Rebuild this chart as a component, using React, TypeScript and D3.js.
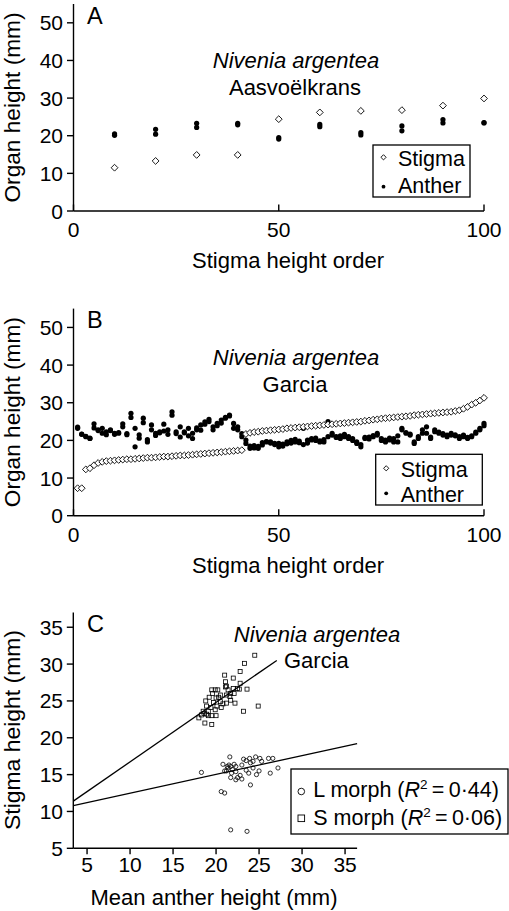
import React from 'react';
import * as d3 from 'd3';

const FONT = '"Liberation Sans", Arial, Helvetica, sans-serif';

// ---------- Panel A: Nivenia argentea, Aasvoëlkrans ----------
const aOrder = [10, 20, 30, 40, 50, 60, 70, 80, 90, 100];
const aStigma = [11.5, 13.3, 14.9, 14.9, 24.4, 26.2, 26.6, 26.8, 28.0, 29.9];
const aAnther1 = [20.5, 21.7, 23.3, 23.3, 19.5, 23.0, 20.8, 22.6, 24.3, 23.5];
const aAnther2 = [20.1, 20.4, 22.2, 22.9, 19.1, 22.4, 20.2, 21.3, 23.4, 23.4];

// ---------- Panel B: Nivenia argentea, Garcia ----------
const bStigma = [
  7.3, 7.3, 12.3, 12.6, 13.4, 14.0, 14.3, 14.5, 14.6, 14.7,
  14.8, 14.9, 15.0, 15.0, 15.1, 15.2, 15.3, 15.4, 15.4, 15.5,
  15.6, 15.7, 15.7, 15.8, 15.9, 16.0, 16.0, 16.1, 16.2, 16.3,
  16.4, 16.5, 16.6, 16.7, 16.8, 16.9, 17.0, 17.1, 17.2, 17.3,
  17.4, 21.7, 22.0, 22.2, 22.3, 22.5, 22.6, 22.7, 22.8, 22.9,
  23.0, 23.2, 23.3, 23.4, 23.5, 23.6, 23.7, 23.8, 23.9, 24.0,
  24.1, 24.2, 24.3, 24.4, 24.5, 24.6, 24.7, 24.8, 24.9, 25.0,
  25.2, 25.3, 25.5, 25.6, 25.8, 25.9, 26.0, 26.1, 26.2, 26.3,
  26.4, 26.5, 26.7, 26.8, 26.9, 27.0, 27.1, 27.2, 27.3, 27.4,
  27.5, 27.6, 27.8, 28.0, 28.4, 28.9, 29.5, 30.0, 30.6, 31.3,
];
const bAnther1 = [
  23.5, 21.7, 21.1, 20.6, 24.4, 22.6, 23.2, 21.5, 22.8, 21.9,
  21.9, 24.4, 21.5, 27.2, 23.2, 21.5, 25.9, 20.2, 24.1, 21.9,
  22.3, 24.3, 22.8, 27.6, 22.3, 23.6, 22.3, 23.2, 20.5, 22.8,
  24.1, 24.9, 25.6, 23.6, 24.5, 25.4, 26.1, 26.7, 24.5, 22.8,
  21.8, 20.1, 17.9, 18.0, 17.9, 18.8, 19.6, 19.6, 19.2, 18.3,
  19.0, 19.6, 19.3, 20.3, 19.4, 23.2, 19.3, 20.1, 20.6, 19.6,
  19.6, 25.0, 21.9, 20.8, 21.2, 21.6, 21.0, 20.5, 19.2, 18.3,
  20.5, 20.4, 21.0, 21.9, 20.5, 19.6, 20.1, 20.5, 19.6, 23.2,
  22.1, 21.4, 19.2, 20.5, 21.9, 23.6, 20.5, 22.8, 21.9, 21.4,
  21.0, 21.4, 21.5, 20.5, 21.4, 20.5, 21.0, 21.9, 23.2, 24.5,
];
const bAnther2 = [
  23.2, 21.6, 21.0, 20.5, 23.3, 22.8, 21.9, 22.3, 22.6, 21.6,
  22.1, 23.6, 21.8, 26.1, 18.3, 20.6, 24.7, 19.6, 22.8, 21.3,
  22.0, 22.5, 21.6, 26.7, 21.8, 20.9, 22.0, 21.2, 21.9, 23.3,
  22.7, 24.3, 25.0, 22.8, 23.9, 24.6, 25.9, 26.5, 23.2, 23.6,
  21.0, 19.2, 18.5, 18.6, 18.4, 19.4, 19.7, 19.3, 18.9, 19.2,
  18.5, 19.1, 20.0, 19.6, 19.8, 18.9, 20.1, 20.5, 20.0, 19.9,
  20.2, 21.0, 21.4, 21.0, 20.5, 21.0, 20.5, 20.0, 19.6, 18.9,
  20.8, 20.9, 21.3, 21.4, 20.0, 20.1, 20.6, 19.6, 21.2, 22.8,
  21.9, 21.7, 19.6, 21.0, 22.8, 21.9, 20.9, 22.3, 22.2, 21.8,
  21.4, 21.9, 21.2, 21.0, 21.0, 20.8, 21.2, 22.2, 22.8, 23.9,
];

// ---------- Panel C: stigma height vs mean anther height ----------
const lMorphX = [
  18.3, 21.6, 20.8, 21.5, 21.7, 21.4, 21.2, 21.0, 22.1, 22.3,
  21.8, 21.7, 22.3, 23.2, 23.5, 23.9, 24.0, 24.3, 24.6, 25.1,
  25.3, 26.1, 26.6, 23.0, 23.5, 24.3, 25.0, 24.7, 26.3, 27.2,
  22.8, 23.0, 22.5, 24.0, 20.6, 21.0, 21.7, 23.6, 22.3, 23.8,
  21.9, 21.3,
];
const lMorphY = [
  15.3, 17.4, 16.4, 16.3, 16.1, 15.9, 15.5, 15.5, 16.4, 16.1,
  15.2, 14.6, 14.3, 17.1, 16.9, 17.2, 16.6, 16.8, 17.4, 17.2,
  16.8, 17.2, 17.2, 16.3, 15.6, 15.9, 15.5, 15.0, 15.2, 15.9,
  14.9, 14.4, 14.6, 13.6, 12.7, 12.5, 7.5, 7.3, 15.4, 15.2,
  15.7, 16.1,
];
const sMorphX = [
  24.5, 23.3, 22.8, 21.0, 22.0, 21.1, 22.8, 21.2, 23.6, 22.5,
  22.7, 19.5, 19.9, 20.2, 21.4, 21.7, 22.1, 21.6, 21.2, 20.3,
  19.2, 19.6, 18.8, 19.7, 20.5, 20.8, 21.2, 22.2, 24.9, 18.9,
  19.4, 20.1, 20.6, 19.9, 18.5, 19.1, 23.2, 18.3, 18.9, 19.5,
  20.0, 18.0, 18.7, 19.5, 20.5, 21.7, 22.0, 19.1, 18.6, 20.0,
  21.1,
];
const sMorphY = [
  31.2, 30.1, 29.0, 28.5, 28.1, 27.6, 27.4, 27.0, 26.6, 26.7,
  26.6, 26.5, 26.5, 26.5, 26.5, 26.0, 26.0, 25.6, 25.8, 25.5,
  25.5, 26.0, 25.0, 24.8, 24.9, 24.6, 24.7, 24.7, 24.3, 24.3,
  24.1, 24.3, 24.1, 23.8, 23.6, 23.6, 23.6, 23.1, 23.2, 23.0,
  23.0, 22.7, 22.0, 21.8, 25.8, 25.1, 26.7, 23.0, 23.3, 25.4,
  26.9,
];
// regression fits (stigma = intercept + slope * anther)
const lMorphFit = { intercept: 9.93, slope: 0.255, xEnd: 36.4 };
const sMorphFit = { intercept: 8.66, slope: 0.807, xEnd: 27.06 };

const orderTicks = [0, 50, 100];
const organTicks = [0, 10, 20, 30, 40, 50];
const antherTicks = [5, 10, 15, 20, 25, 30, 35];
const stigmaTicks = [5, 10, 15, 20, 25, 30, 35];

const diamond = (r: number) => `M0,${-r}L${r},0L0,${r}L${-r},0Z`;

const AX = { stroke: '#000', strokeWidth: 1.4 };

function OrderPanel({
  y0, y1, stigmaX, stigma, anther1, anther2, label, site, annY, legend, panelLetter, letterY, titleY,
}: any) {
  const x = d3.scaleLinear().domain([0, 100]).range([73.5, 484]);
  const y = d3.scaleLinear().domain([0, 55]).range([y0, y1]);
  const xs = stigmaX;
  return (
    <g>
      <line x1={x(0)} x2={x(0)} y1={y(0)} y2={y(55)} {...AX} />
      <line x1={x(0)} x2={x(100)} y1={y(0)} y2={y(0)} {...AX} />
      {organTicks.map((t) => (
        <g key={'yt' + t}>
          <line x1={x(0) - 6.5} x2={x(0)} y1={y(t)} y2={y(t)} {...AX} />
          <text x={63} y={y(t)} dy="0.36em" textAnchor="end" fontSize={21}>{t}</text>
        </g>
      ))}
      {orderTicks.map((t) => (
        <g key={'xt' + t}>
          <line x1={x(t)} x2={x(t)} y1={y(0)} y2={y(0) - 6.5} {...AX} />
          <text x={x(t)} y={y(0) + 26} textAnchor="middle" fontSize={21}>{t}</text>
        </g>
      ))}
      <text x={288} y={titleY} textAnchor="middle" fontSize={22}>Stigma height order</text>
      <text transform={`translate(19.5,${(y(0) + y(55)) / 2}) rotate(-90)`} textAnchor="middle"
        fontSize={21.5} textLength={190} lengthAdjust="spacingAndGlyphs">
        Organ height (mm)
      </text>
      <text x={87} y={letterY} fontSize={23.5}>{panelLetter}</text>
      <text x={296} y={annY} textAnchor="middle" fontSize={22} fontStyle="italic">{label}</text>
      <text x={295} y={annY + 26.5} textAnchor="middle" fontSize={22}>{site}</text>
      {anther1.map((v: number, i: number) => (
        <circle key={'a1' + i} cx={x(xs[i])} cy={y(v)} r={2.6} fill="#000" />
      ))}
      {anther2.map((v: number, i: number) => (
        <circle key={'a2' + i} cx={x(xs[i])} cy={y(v)} r={2.6} fill="#000" />
      ))}
      {stigma.map((v: number, i: number) => (
        <path key={'s' + i} d={diamond(3.4)} transform={`translate(${x(xs[i])},${y(v)})`}
          fill="#fff" stroke="#000" strokeWidth={0.9} />
      ))}
      <rect x={legend.x0} y={legend.y0} width={legend.x1 - legend.x0} height={legend.y1 - legend.y0}
        fill="#fff" stroke="#000" strokeWidth={1.3} />
      <path d={diamond(2.6)} transform={`translate(${legend.x0 + 10.5},${legend.sy})`} fill="#fff" stroke="#000" strokeWidth={0.9} />
      <text x={legend.x0 + 25} y={legend.sb} fontSize={21.5}>Stigma</text>
      <circle cx={legend.x0 + 10.5} cy={legend.ay} r={1.9} fill="#000" />
      <text x={legend.x0 + 25} y={legend.ab} fontSize={21.5}>Anther</text>
    </g>
  );
}

function ScatterPanel() {
  const x = d3.scaleLinear().domain([3.4, 36.4]).range([73.3, 357.1]);
  const y = d3.scaleLinear().domain([5, 37]).range([848.3, 612.5]);
  const fitLine = (f: any) =>
    d3.line<number>().x((d) => x(d)).y((d) => y(f.intercept + f.slope * d))([3.4, f.xEnd]) || '';
  return (
    <g>
      <line x1={x(3.4)} x2={x(3.4)} y1={y(5)} y2={y(37)} {...AX} />
      <line x1={x(3.4)} x2={x(36.4)} y1={y(5)} y2={y(5)} {...AX} />
      {stigmaTicks.map((t) => (
        <g key={'yt' + t}>
          <line x1={x(3.4) - 6.5} x2={x(3.4)} y1={y(t)} y2={y(t)} {...AX} />
          <text x={63} y={y(t)} dy="0.36em" textAnchor="end" fontSize={21}>{t}</text>
        </g>
      ))}
      {antherTicks.map((t) => (
        <g key={'xt' + t}>
          <line x1={x(t)} x2={x(t)} y1={y(5)} y2={y(5) + 6} {...AX} />
          <text x={x(t)} y={y(5) + 23.5} textAnchor="middle" fontSize={21}>{t}</text>
        </g>
      ))}
      <text x={214} y={905} textAnchor="middle" fontSize={22}>Mean anther height (mm)</text>
      <text transform={`translate(19.5,730) rotate(-90)`} textAnchor="middle"
        fontSize={21.5} textLength={200} lengthAdjust="spacingAndGlyphs">
        Stigma height (mm)
      </text>
      <text x={87} y={631.5} fontSize={23.5}>C</text>
      <text x={317} y={641.7} textAnchor="middle" fontSize={22} fontStyle="italic">Nivenia argentea</text>
      <text x={284} y={668.3} fontSize={22}>Garcia</text>
      <path d={fitLine(sMorphFit)} fill="none" stroke="#000" strokeWidth={1.3} />
      <path d={fitLine(lMorphFit)} fill="none" stroke="#000" strokeWidth={1.3} />
      {sMorphX.map((v, i) => (
        <rect key={'s' + i} x={x(v) - 2} y={y(sMorphY[i]) - 2} width={4} height={4}
          fill="none" stroke="#000" strokeWidth={0.8} />
      ))}
      {lMorphX.map((v, i) => (
        <circle key={'l' + i} cx={x(v)} cy={y(lMorphY[i])} r={2.1}
          fill="none" stroke="#000" strokeWidth={0.8} />
      ))}
      <rect x={291} y={769} width={217} height={65} fill="#fff" stroke="#000" strokeWidth={1.3} />
      <circle cx={301.3} cy={791.5} r={3.3} fill="none" stroke="#000" strokeWidth={0.9} />
      <text x={313.3} y={796.7} fontSize={21.5}>
        L morph (<tspan fontStyle="italic">R</tspan>
        <tspan fontSize={13.5} dy={-8}>2</tspan>
        <tspan dy={8}>{'\u2009=\u20090\u00B744)'}</tspan>
      </text>
      <rect x={298} y={815} width={6.6} height={6.6} fill="none" stroke="#000" strokeWidth={0.9} />
      <text x={313.3} y={824.7} fontSize={21.5}>
        S morph (<tspan fontStyle="italic">R</tspan>
        <tspan fontSize={13.5} dy={-8}>2</tspan>
        <tspan dy={8}>{'\u2009=\u20090\u00B706)'}</tspan>
      </text>
    </g>
  );
}

export default function App() {
  const bOrder = bStigma.map((_, i) => i + 1);
  return (
    <svg width={509} height={911} style={{ position: 'absolute', left: 0, top: 0, background: '#fff' }}
      fontFamily={FONT} fill="#000">
      <rect x={0} y={0} width={509} height={911} fill="#fff" />
      <OrderPanel
        y0={211} y1={4} stigmaX={aOrder} stigma={aStigma} anther1={aAnther1} anther2={aAnther2}
        label="Nivenia argentea" site="Aasvoëlkrans" annY={68.3} panelLetter="A" letterY={24}
        titleY={267.5}
        legend={{ x0: 373, y0: 145, x1: 470, y1: 197, sy: 157.3, sb: 165.7, ay: 186.7, ab: 193.3 }}
      />
      <OrderPanel
        y0={515.7} y1={308.6} stigmaX={bOrder} stigma={bStigma} anther1={bAnther1} anther2={bAnther2}
        label="Nivenia argentea" site="Garcia" annY={365} panelLetter="B" letterY={328.3}
        titleY={573}
        legend={{ x0: 375.7, y0: 454.3, x1: 482.3, y1: 505, sy: 468.3, sb: 476.7, ay: 493.3, ab: 501.7 }}
      />
      <ScatterPanel />
    </svg>
  );
}
